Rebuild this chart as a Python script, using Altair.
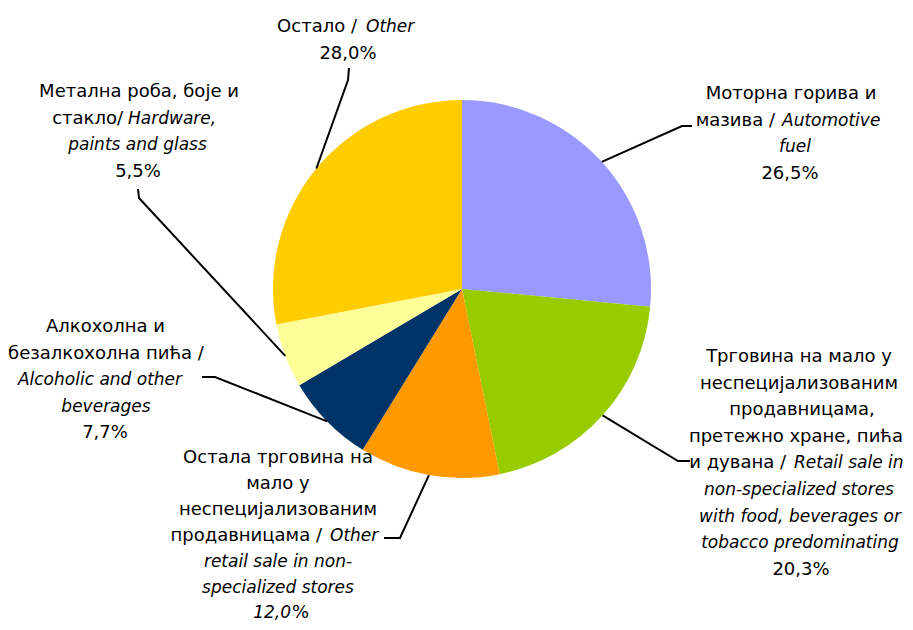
import altair as alt
import pandas as pd
import numpy as np

# ---------------- data ----------------
categories = ["fuel", "nonspec", "otherretail", "beverages", "hardware", "other"]
values = [26.5, 20.3, 12.0, 7.7, 5.5, 28.0]

# label lines: (normal prefix, italic part, normal suffix)
label_lines = {
    "fuel": [("Моторна горива и", "", ""), ("мазива /", "Automotive", ""),
             ("", "fuel", ""), ("26,5%", "", "")],
    "nonspec": [("Трговина на мало у", "", ""), ("неспецијализованим", "", ""),
                ("продавницама,", "", ""), ("претежно хране, пића", "", ""),
                ("и дувана /", "Retail sale in", ""), ("", "non-specialized stores", ""),
                ("", "with food, beverages or", ""), ("", "tobacco predominating", ""),
                ("20,3%", "", "")],
    "otherretail": [("Остала трговина на", "", ""), ("мало у", "", ""),
                    ("неспецијализованим", "", ""), ("продавницама /", "Other", ""),
                    ("", "retail sale in non-", ""), ("", "specialized stores", ""),
                    ("", "12,0", "%")],
    "beverages": [("Алкохолна и", "", ""), ("безалкохолна пића /", "", ""),
                  ("", "Alcoholic and other", ""), ("", "beverages", ""), ("7,7%", "", "")],
    "hardware": [("Метална роба, боје и", "", ""), ("стакло/", "Hardware,", ""),
                 ("", "paints and glass", ""), ("5,5%", "", "")],
    "other": [("Остало /", "Other", ""), ("28,0%", "", "")],
}

# ---------------- style / layout ----------------
colors = ["#9999FF", "#99CC00", "#FF9900", "#003366", "#FFFF99", "#FFCC00"]
W, H = 897, 614
CX, CY, R = 462, 289, 189
FONT = "DejaVu Sans"
FS = 18
FS_IT = 17

# per label: first baseline, line spacing, x per line (center, or (end of first part, start of second part))
layout = {
    "fuel": dict(y0=99, lh=26.6, xs=[791, (775, 782), 795, 790]),
    "nonspec": dict(y0=362, lh=26.6, xs=[799, 799, 802, 796, (786, 794), 799, 800, 800, 801]),
    "otherretail": dict(y0=463, lh=25.9, xs=[278, 278, 278, (322, 330), 278, 278, (291, 292)]),
    "beverages": dict(y0=332, lh=26.6, xs=[105.5, 106, 100, 106, 105]),
    "hardware": dict(y0=97, lh=26.6, xs=[139, (123, 128), 137.5, 138]),
    "other": dict(y0=32, lh=26.6, xs=[(357, 366), 348]),
}
# leader line: elbow and end points (start is on the slice edge, computed from data)
leaders = {
    "fuel": [(682, 126), (692, 126)],
    "nonspec": [(678, 461), (690, 461)],
    "otherretail": [(400, 538), (384, 538)],
    "beverages": [(215, 377), (202, 377)],
    "hardware": [(139, 198), (138, 189)],
    "other": [(348, 80), (349, 68)],
}

# ---------------- build tables ----------------
pie_df = pd.DataFrame({"cat": categories, "value": values, "idx": range(len(values))})

vals = np.array(values)
mid = (np.cumsum(vals) - vals / 2) / vals.sum() * 2 * np.pi
rows = []
for i, c in enumerate(categories):
    sx = CX + R * np.sin(mid[i])
    sy = CY - R * np.cos(mid[i])
    pts = [(sx, sy)] + leaders[c]
    for k, (px, py) in enumerate(pts):
        rows.append({"cat": c, "ord": k, "x": px, "y": py})
line_df = pd.DataFrame(rows)

segs = []
for c in categories:
    lay = layout[c]
    for j, (pre, ital, suf) in enumerate(label_lines[c]):
        y = lay["y0"] + j * lay["lh"]
        xspec = lay["xs"][j]
        if isinstance(xspec, tuple):
            xa, xb = xspec
            if pre:
                segs.append({"text": pre, "x": xa, "y": y, "italic": False, "align": "right"})
                segs.append({"text": ital, "x": xb, "y": y, "italic": True, "align": "left"})
            else:
                segs.append({"text": ital, "x": xa, "y": y, "italic": True, "align": "right"})
                segs.append({"text": suf, "x": xb, "y": y, "italic": False, "align": "left"})
        else:
            txt = pre or ital
            segs.append({"text": txt, "x": xspec, "y": y, "italic": bool(ital) and not pre,
                         "align": "center"})
seg_df = pd.DataFrame(segs)

# ---------------- chart ----------------
xs = alt.Scale(domain=[8, 8 + W], nice=False, zero=False)
ys = alt.Scale(domain=[8, 8 + H], nice=False, zero=False, reverse=True)

pie = alt.Chart(pie_df).mark_arc(outerRadius=R).encode(
    theta=alt.Theta("value:Q", stack=True),
    order=alt.Order("idx:Q"),
    color=alt.Color("cat:N", scale=alt.Scale(domain=categories, range=colors), legend=None),
    x=alt.value(CX - 8),
    y=alt.value(CY - 8),
)

lines = alt.Chart(line_df).mark_line(color="black", strokeWidth=2).encode(
    x=alt.X("x:Q", scale=xs, axis=None),
    y=alt.Y("y:Q", scale=ys, axis=None),
    detail="cat:N",
    order="ord:Q",
)

text_layers = []
for italic in [False, True]:
    for align in ["center", "left", "right"]:
        sub = seg_df[(seg_df["italic"] == italic) & (seg_df["align"] == align)]
        if len(sub) == 0:
            continue
        text_layers.append(
            alt.Chart(sub).mark_text(
                font=FONT, fontSize=FS_IT if italic else FS,
                fontStyle="italic" if italic else "normal",
                align=align, baseline="alphabetic", color="black",
            ).encode(
                x=alt.X("x:Q", scale=xs, axis=None),
                y=alt.Y("y:Q", scale=ys, axis=None),
                text="text:N",
            )
        )

chart = alt.layer(pie, lines, *text_layers).properties(
    width=W, height=H, padding=0,
    autosize=alt.AutoSizeParams(type="none"),
    background="white",
).configure_view(stroke=None)

chart.save("out.html", embed_options={"renderer": "svg", "actions": False})
